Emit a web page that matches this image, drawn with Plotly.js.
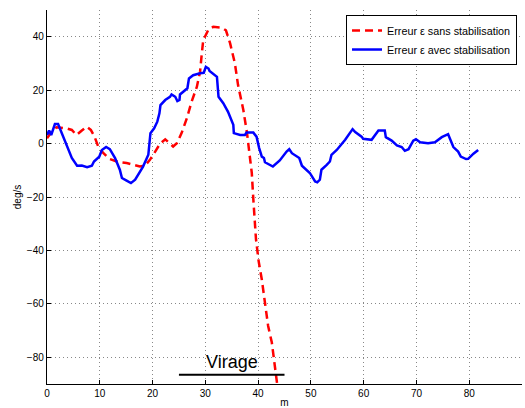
<!DOCTYPE html>
<html>
<head>
<meta charset="utf-8">
<script src="https://cdn.plot.ly/plotly-3.0.1.min.js"></script>
<style>
html,body{margin:0;padding:0;background:#fff;}
#chart{width:525px;height:408px;}
</style>
</head>
<body>
<div id="chart"></div>
<script>
// Distance (m)
const blueX = [0, 0.4, 0.8, 1.5, 2.1, 2.8, 3.6, 4.4, 4.7, 5.7, 6.6, 7.6, 8.5, 8.9, 9.9, 10.4, 11.2, 11.9, 12.9, 13.8, 14.2, 15.0, 15.9, 16.7, 17.5, 18.2, 19.2, 19.5, 19.6, 20.3, 20.9, 21.3, 21.5, 22.4, 23.3, 23.6, 24.3, 24.7, 25.1, 25.2, 25.8, 26.6, 26.9, 27.7, 29.0, 29.7, 30.1, 30.6, 30.8, 32.2, 32.5, 33.4, 34.3, 35.3, 35.4, 36.6, 37.5, 37.8, 39.1, 39.7, 40.2, 40.7, 41.1, 41.3, 42.8, 44.1, 45.4, 45.9, 46.4, 47.8, 48.3, 49.8, 50.8, 51.2, 51.7, 52.0, 53.0, 53.6, 53.9, 54.9, 56.5, 57.9, 58.4, 59.6, 59.9, 61.5, 62.8, 64.0, 64.2, 65.3, 66.3, 67.2, 67.8, 68.5, 69.4, 69.9, 70.7, 72.2, 73.5, 74.8, 76.0, 76.4, 77.0, 77.9, 78.4, 79.4, 79.8, 80.8, 81.7];
// Erreur avec stabilisation (deg/s)
const blueY = [3.2, 4.9, 3.2, 7.3, 7.3, 4.0, 0.2, -3.5, -5.4, -8.3, -8.2, -8.8, -8.3, -6.7, -4.9, -2.4, -1.3, -2.1, -5.4, -9.8, -12.9, -13.8, -14.8, -13.5, -11.0, -8.6, -4.2, 1.4, 3.9, 5.7, 8.2, 11.3, 14.4, 16.3, 17.5, 18.4, 17.5, 15.9, 16.3, 18.4, 19.4, 20.7, 24.4, 25.6, 26.3, 26.5, 28.7, 28.1, 27.2, 25.0, 17.5, 15.1, 11.9, 7.0, 3.9, 3.2, 3.2, 4.1, 4.1, 2.6, -1.7, -4.9, -5.4, -7.0, -8.6, -6.3, -3.0, -2.1, -3.6, -5.4, -8.3, -11.0, -14.2, -14.5, -13.5, -9.8, -8.0, -6.7, -4.2, -2.4, 1.4, 5.4, 4.3, 2.6, 1.8, 1.4, 4.9, 4.9, 2.4, 1.1, -0.7, -1.3, -2.7, -2.1, 1.1, 1.6, 0.5, 0.1, 0.5, 2.4, 3.5, 1.4, -1.3, -3.0, -4.9, -5.8, -5.7, -3.8, -2.4];
const redX = [0, 0.9, 1.8, 3.7, 4.7, 5.6, 6.6, 7.5, 8.3, 9.0, 9.7, 10.7, 11.9, 13.5, 15.1, 16.4, 17.6, 18.6, 19.5, 20.5, 21.4, 22.4, 23.3, 23.9, 24.6, 25.5, 26.5, 27.4, 28.4, 29.0, 29.3, 29.6, 30.6, 31.5, 33.1, 33.9, 34.7, 35.6, 36.2, 37.2, 37.9, 38.3, 38.8, 39.1, 39.6, 40.1, 40.7, 41.3, 41.9, 42.6, 43.1, 43.6, 43.8];
// Erreur sans stabilisation (deg/s)
const redY = [2.0, 4.5, 6.1, 5.7, 5.1, 3.2, 4.9, 6.3, 5.1, 2.6, -1.1, -3.6, -5.8, -6.9, -7.3, -7.9, -8.6, -8.2, -6.1, -3.0, -0.1, 1.6, 0.1, -1.1, 0.1, 3.9, 9.5, 15.7, 21.3, 26.9, 33.1, 38.7, 42.7, 43.7, 43.4, 42.4, 37.5, 30.0, 21.9, 12.6, 3.9, -2.4, -11.0, -21.0, -35.9, -44.0, -50.9, -59.6, -68.3, -74.5, -81.5, -89.0, -93.0];
// Virage annotation bar
const virageX = [25, 45];
const virageY = [-86.5, -86.5];
const virageLabel = "Virage";
const xTicks = [0, 10, 20, 30, 40, 50, 60, 70, 80, 90];
const yTicks = [-80, -60, -40, -20, 0, 20, 40];
const nameRed = "Erreur \u03b5 sans stabilisation";
const nameBlue = "Erreur \u03b5 avec stabilisation";

const FONT = 'Liberation Sans, Arial, sans-serif';

const traces = [
  {x: redX, y: redY, mode: 'lines', name: nameRed,
   line: {color: '#ff0000', width: 2.5, dash: '8px,5px'}},
  {x: blueX, y: blueY, mode: 'lines', name: nameBlue,
   line: {color: '#0000ff', width: 2.5}},
  {x: virageX, y: virageY, mode: 'lines', showlegend: false, hoverinfo: 'skip',
   line: {color: '#000000', width: 2}}
];

const axisCommon = {
  showline: true, linecolor: '#000', linewidth: 1.2,
  ticks: 'inside', ticklen: 4, tickcolor: '#000', tickwidth: 1,
  showgrid: true, gridcolor: '#888', gridwidth: 1, griddash: '1px,3px',
  zeroline: false, mirror: false,
  tickfont: {family: FONT, size: 10, color: '#000'}
};

const layout = {
  width: 525, height: 408,
  margin: {l: 47, r: 3, t: 10, b: 24},
  paper_bgcolor: '#fff', plot_bgcolor: '#fff',
  showlegend: true,
  legend: {
    x: 0.9895, y: 0.9866, xanchor: 'right', yanchor: 'top',
    bgcolor: '#fff', bordercolor: '#000', borderwidth: 1,
    font: {family: FONT, size: 10.8, color: '#000'},
    tracegroupgap: 0, itemwidth: 30
  },
  xaxis: Object.assign({}, axisCommon, {
    range: [0, 90], tickvals: xTicks, ticktext: xTicks.map(String),
    title: {text: 'm', font: {family: FONT, size: 10, color: '#000'}, standoff: 11}
  }),
  yaxis: Object.assign({}, axisCommon, {
    range: [-90, 50], tickvals: yTicks, ticktext: yTicks.map(v => v < 0 ? '\u2212' + Math.abs(v) : String(v)),
    title: {text: 'deg/s', font: {family: FONT, size: 10, color: '#000'}, standoff: 3}
  }),
  annotations: [{
    x: 35, y: -81.7, xref: 'x', yref: 'y', text: virageLabel, showarrow: false,
    font: {family: FONT, size: 18, color: '#000'}
  }]
};

Plotly.newPlot('chart', traces, layout, {displayModeBar: false, staticPlot: true});
</script>
</body>
</html>
